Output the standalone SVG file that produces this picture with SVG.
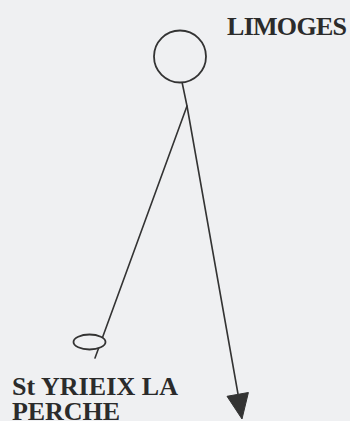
<svg xmlns="http://www.w3.org/2000/svg" width="350" height="421" viewBox="0 0 350 421">
  <style>
    .bg { fill: #eff0f2; }
    .edge { fill: none; stroke: #333; stroke-width: 1.6; stroke-linecap: round; stroke-linejoin: round; }
    .node { fill: #eff0f2; stroke: #333; stroke-width: 1.8; }
    .head { fill: #333; stroke: #333; stroke-width: 1; stroke-linejoin: round; }
    .label { font-family: "Liberation Serif", "Times New Roman", serif; font-weight: bold; font-size: 26px; fill: #2b2b2b; }
  </style>
  <rect class="bg" x="0" y="0" width="350" height="421"/>
  <g id="connectors">
    <path class="edge" d="M182,82 L187,106 L238,394"/>
    <polygon class="head" points="227,396.3 248.4,392.5 242,419"/>
    <path class="edge" d="M187,106 L95,358"/>
  </g>
  <g id="node-limoges">
    <circle class="node" cx="180" cy="56.5" r="26"/>
    <text class="label" x="227" y="35" textLength="120">LIMOGES</text>
  </g>
  <g id="node-st-yrieix">
    <ellipse class="node" cx="89.5" cy="342" rx="16" ry="7.5"/>
    <text class="label" x="12" y="395" textLength="166">St YRIEIX LA</text>
    <text class="label" x="12" y="420" textLength="108">PERCHE</text>
  </g>
</svg>
